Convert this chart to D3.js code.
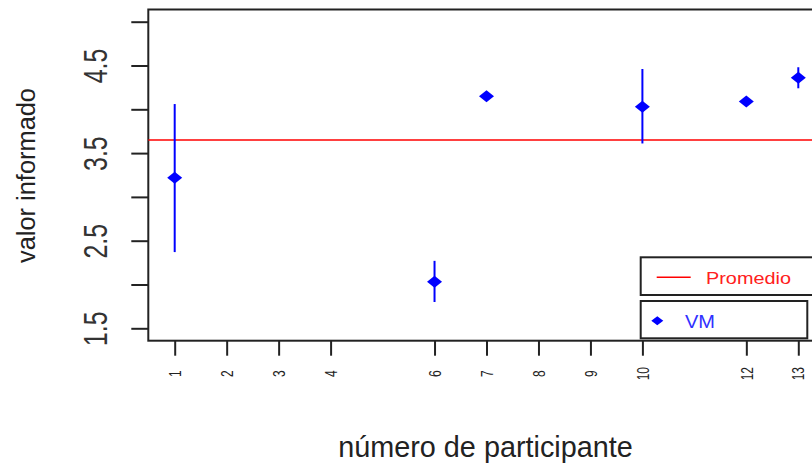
<!DOCTYPE html>
<html>
<head>
<meta charset="utf-8">
<script src="https://cdn.jsdelivr.net/npm/d3@7"></script>
<style>
  body { margin: 0; background: #fff; }
  svg { display: block; font-family: "Liberation Sans", Arial, sans-serif; }
</style>
</head>
<body>
<div id="chart"></div>
<script>
// participant ids with a value, their mean and the error bar ends
const participants = [1, 6, 7, 10, 12, 13];
const means = [3.22, 2.03, 4.15, 4.03, 4.09, 4.36];
const lower = [2.37, 1.80, 4.14, 3.61, 4.08, 4.24];
const upper = [4.06, 2.27, 4.16, 4.46, 4.10, 4.48];
const promedio = 3.65;

const xTicks = [1, 2, 3, 4, 6, 7, 8, 9, 10, 12, 13];
const yTicks = [1.5, 2, 2.5, 3, 3.5, 4, 4.5, 5];
const yLabels = [1.5, 2.5, 3.5, 4.5];

const width = 812, height = 468;
const plot = {left: 148.3, top: 9.5, bottom: 340.7, right: 840};

const svg = d3.select("#chart")
    .append("svg")
    .attr("width", width)
    .attr("height", height);

const x = d3.scaleLinear()
    .domain([1, 13])
    .range([174.7, 798.3]);

const y = d3.scaleLinear()
    .domain([5, 1.5])
    .range([21.7, 328.3]);

// x axis
const xAxis = svg.append("g")
    .attr("transform", `translate(0,${plot.bottom})`)
    .call(d3.axisBottom(x).tickValues(xTicks).tickSize(15).tickSizeOuter(0).tickFormat(d3.format("d")));
xAxis.select(".domain").remove();
xAxis.selectAll(".tick line").attr("stroke", "#222").attr("stroke-width", 2);
xAxis.selectAll(".tick text")
    .attr("y", null).attr("dy", null)
    .attr("fill", "#222")
    .style("font-size", "12px")
    .attr("text-anchor", "middle")
    .attr("dominant-baseline", "central")
    .attr("transform", "translate(0,33) rotate(-90) scale(1,1.35)");

// y axis
const yAxis = svg.append("g")
    .attr("transform", `translate(${plot.left},0)`)
    .call(d3.axisLeft(y).tickValues(yTicks).tickSize(17).tickSizeOuter(0)
        .tickFormat(d => yLabels.includes(d) ? d3.format(".1f")(d) : ""));
yAxis.select(".domain").remove();
yAxis.selectAll(".tick line").attr("stroke", "#222").attr("stroke-width", 2);
yAxis.selectAll(".tick text")
    .attr("x", null).attr("dy", null)
    .attr("fill", "#333")
    .style("font-size", "25px")
    .attr("text-anchor", "middle")
    .attr("dominant-baseline", "central")
    .attr("transform", "translate(-53,0) rotate(-90) scale(1,1.32)");

// frame
svg.append("rect")
    .attr("x", plot.left)
    .attr("y", plot.top)
    .attr("width", plot.right - plot.left)
    .attr("height", plot.bottom - plot.top)
    .attr("fill", "none")
    .attr("stroke", "#222")
    .attr("stroke-width", 2);

// average line
svg.append("line")
    .attr("x1", plot.left)
    .attr("x2", plot.right)
    .attr("y1", y(promedio))
    .attr("y2", y(promedio))
    .attr("stroke", "#ff0000")
    .attr("stroke-width", 1.6);

const data = participants.map((p, i) => ({p: p, m: means[i], lo: lower[i], hi: upper[i]}));

// error bars
svg.selectAll("line.err")
    .data(data)
    .enter()
    .append("line")
    .attr("class", "err")
    .attr("x1", d => x(d.p))
    .attr("x2", d => x(d.p))
    .attr("y1", d => y(d.hi))
    .attr("y2", d => y(d.lo))
    .attr("stroke", "#0000ff")
    .attr("stroke-width", 2);

const diamond = "M-7.5,0L0,-6L7.5,0L0,6Z";

svg.selectAll("path.pt")
    .data(data)
    .enter()
    .append("path")
    .attr("class", "pt")
    .attr("d", diamond)
    .attr("transform", d => `translate(${x(d.p)},${y(d.m)})`)
    .attr("fill", "#0000ff");

// axis titles
svg.append("text")
    .attr("x", 485.5)
    .attr("y", 457.3)
    .attr("text-anchor", "middle")
    .attr("fill", "#222")
    .style("font-size", "28.8px")
    .text("número de participante");

svg.append("text")
    .attr("transform", "translate(35,175.5) rotate(-90)")
    .attr("text-anchor", "middle")
    .attr("fill", "#222")
    .style("font-size", "25.4px")
    .text("valor informado");

// legends
svg.append("rect")
    .attr("x", 640.7).attr("y", 257.3)
    .attr("width", 200).attr("height", 37.7)
    .attr("fill", "#fff")
    .attr("stroke", "#222").attr("stroke-width", 2);
svg.append("line")
    .attr("x1", 656.7).attr("x2", 690.7)
    .attr("y1", 277.3).attr("y2", 277.3)
    .attr("stroke", "#ff0000").attr("stroke-width", 1.6);
svg.append("text")
    .attr("x", 706).attr("y", 284.3)
    .attr("fill", "#ff2020")
    .style("font-size", "17px")
    .attr("textLength", 85)
    .attr("lengthAdjust", "spacingAndGlyphs")
    .text("Promedio");

svg.append("rect")
    .attr("x", 640.7).attr("y", 301)
    .attr("width", 166.6).attr("height", 37.3)
    .attr("fill", "#fff")
    .attr("stroke", "#222").attr("stroke-width", 2);
svg.append("path")
    .attr("d", "M-6,0L0,-4.5L6,0L0,4.5Z")
    .attr("transform", "translate(657.3,320.7)")
    .attr("fill", "#0000ff");
svg.append("text")
    .attr("x", 685).attr("y", 328.3)
    .attr("fill", "#3030ff")
    .style("font-size", "18px")
    .attr("textLength", 30)
    .attr("lengthAdjust", "spacingAndGlyphs")
    .text("VM");
</script>
</body>
</html>
